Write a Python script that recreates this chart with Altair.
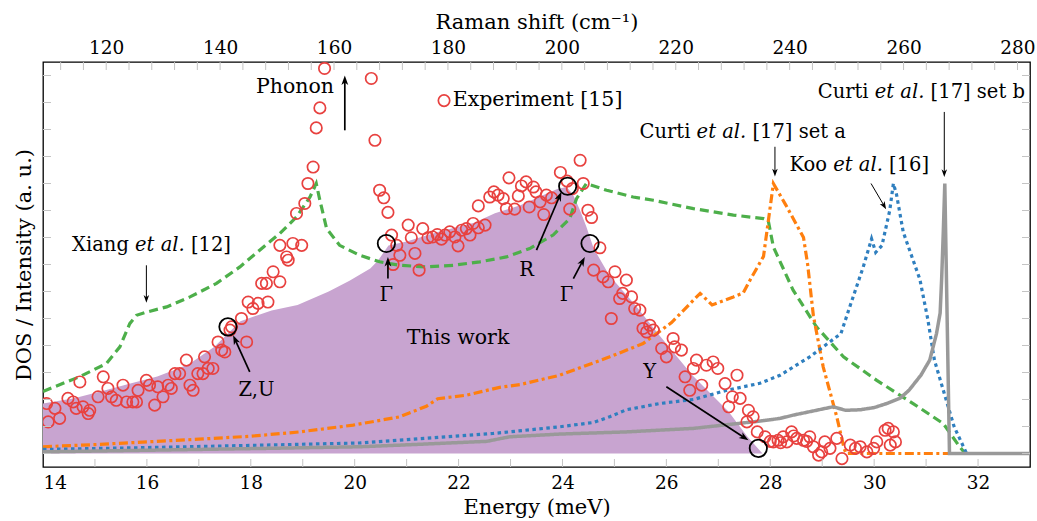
import math
import altair as alt
import pandas as pd

# ---------------- data ----------------
this_work_x = [14.0, 14.6, 15.2, 15.7, 16.2, 16.8, 17.3, 17.8, 18.4, 18.9, 19.5, 19.9, 20.3, 20.45,
               20.65, 21.0, 21.6, 22.3, 22.7, 23.2, 23.6, 23.9, 24.08, 24.2, 24.34, 24.46, 24.6,
               24.9, 25.4, 25.9, 26.5, 27.2, 27.55, 27.85]
this_work_y = [1.85, 2.05, 2.34, 2.6, 2.85, 3.3, 3.95, 4.9, 5.3, 5.5, 6.0, 6.4, 6.85, 7.15,
               7.7, 7.85, 8.2, 8.55, 8.9, 9.2, 9.55, 9.8, 9.87, 9.6, 9.0, 8.4, 7.6,
               6.6, 5.5, 4.3, 2.9, 1.55, 0.65, 0.0]

xiang_x = [14.0, 14.7, 15.22, 15.48, 15.67, 15.8, 16.0, 16.38, 16.83, 17.34, 17.79, 18.17, 18.56,
           18.88, 19.14, 19.26, 19.33, 19.46, 19.71, 20.1, 20.48, 20.87, 21.38, 21.9, 22.41, 22.92,
           23.37, 23.82, 24.14, 24.27, 24.46, 24.85, 25.36, 25.75, 26.52, 27.29, 27.87, 27.96,
           28.06, 28.44, 28.89, 29.41, 30.05, 30.75, 31.33, 31.65, 31.75, 33.0]
xiang_y = [2.3, 2.84, 3.33, 3.95, 4.81, 5.12, 5.24, 5.43, 5.8, 6.3, 6.91, 7.53, 8.15,
           8.76, 9.5, 10.0, 9.38, 8.33, 7.71, 7.34, 7.1, 6.97, 6.91, 6.97, 7.1, 7.28,
           7.59, 8.09, 8.7, 9.44, 10.0, 9.75, 9.5, 9.38, 9.07, 8.83, 8.7, 8.64,
           7.65, 6.05, 4.69, 3.58, 2.71, 1.85, 1.11, 0.24, 0.0, 0.0]

curti_a_x = [14.0, 15.0, 16.0, 17.0, 18.0, 18.94, 19.97, 20.87, 21.38, 21.6, 22.15, 22.79, 23.18,
             23.95, 24.91, 25.55, 26.1, 26.65, 26.88, 27.29, 27.48, 27.61, 27.87, 27.99, 28.06,
             28.3, 28.64, 28.72, 28.83, 29.02, 29.28, 29.42, 29.46, 33.0]
curti_a_y = [0.25, 0.33, 0.43, 0.53, 0.64, 0.8, 1.05, 1.36, 1.75, 2.03, 2.16, 2.45, 2.55,
             2.9, 3.58, 4.07, 4.85, 5.93, 5.5, 5.8, 5.95, 6.42, 7.3, 9.0, 10.0,
             9.2, 8.0, 7.0, 5.1, 3.2, 1.36, 0.2, 0.0, 0.0]

koo_x = [14.0, 16.0, 18.0, 20.1, 22.66, 23.95, 24.6, 24.91, 25.23, 25.87, 26.52, 27.16, 27.8,
         28.19, 28.76, 29.36, 29.53, 29.79, 29.95, 30.03, 30.15, 30.3, 30.37, 30.43, 30.56,
         30.75, 30.88, 31.03, 31.16, 31.35, 31.54, 31.78, 33.0]
koo_y = [0.15, 0.22, 0.3, 0.39, 0.74, 0.99, 1.15, 1.36, 1.62, 1.85, 2.0, 2.34, 2.6,
         2.9, 3.58, 4.44, 5.43, 6.91, 7.95, 7.45, 7.7, 9.0, 10.0, 9.6, 8.2,
         7.16, 6.45, 5.0, 3.46, 2.22, 0.99, 0.0, 0.0]

curti_b_x = [14.0, 16.0, 18.3, 20.1, 20.87, 22.54, 22.8, 22.99, 23.95, 25.23, 26.52, 27.8, 28.19,
             28.44, 29.21, 29.45, 29.73, 30.0, 30.24, 30.5, 30.67, 30.9, 31.07, 31.2, 31.27,
             31.3, 31.33, 31.36, 31.45, 33.0]
curti_b_y = [0.06, 0.12, 0.19, 0.25, 0.31, 0.45, 0.55, 0.62, 0.72, 0.8, 0.93, 1.2, 1.3,
             1.42, 1.73, 1.6, 1.62, 1.7, 1.85, 2.05, 2.34, 2.9, 3.46, 4.44, 5.2,
             6.5, 8.15, 10.0, 0.0, 0.0]

exp_x = [14.07, 14.23, 14.10, 14.32, 14.48, 14.58, 14.64, 14.77, 14.87, 14.90, 14.71, 15.06, 15.16,
         15.25, 15.32, 15.41, 15.54, 15.61, 15.73, 15.80, 15.83, 15.99, 16.05, 16.15, 16.21, 16.31,
         16.41, 16.47, 16.54, 16.63, 16.76, 16.83, 16.89, 16.98, 17.08, 17.11, 17.18, 17.27, 17.37,
         17.44, 17.50, 17.60, 17.63, 17.82, 17.92, 17.95, 18.04, 18.14, 18.21, 18.30, 18.33, 18.43,
         18.56, 18.56, 18.69, 18.72, 18.81, 18.98, 18.88, 19.04, 19.10, 19.20,
         19.42, 19.33, 19.26, 20.32, 20.39, 20.48, 20.56, 20.64, 20.71, 20.81, 20.87, 20.74, 21.03,
         21.09, 21.16, 21.24, 21.31, 21.41, 21.50, 21.59, 21.67, 21.74, 21.83, 21.93, 21.99, 22.06,
         22.15, 22.22, 22.28, 22.38, 22.51, 22.38, 22.60, 22.68, 22.76, 22.86, 22.92, 22.97, 23.08,
         23.15, 23.21, 23.30, 23.36, 23.44, 23.49, 23.57, 23.64, 23.69, 23.79, 23.96, 24.09, 24.19,
         24.14, 24.34, 24.40, 24.49, 24.56, 24.72,
         24.60, 24.78, 24.88, 25.01, 25.23, 25.16, 25.10, 25.33, 25.39, 25.49, 24.94, 25.55, 25.68,
         25.62, 25.75, 25.91, 26.00, 26.13, 26.16, 26.29, 26.58, 26.77, 26.90, 26.99, 26.52, 26.36,
         26.68, 26.45, 27.13, 27.36, 27.27, 27.42, 27.20, 27.58, 27.67, 27.55, 27.75, 27.90, 28.06,
         28.15, 28.25, 28.41, 28.32, 28.51, 28.64, 28.76, 28.83, 28.93, 28.99, 29.05, 29.15, 29.28,
         29.38, 29.54, 29.64, 29.73, 29.86, 29.99, 30.05, 30.21, 30.31, 30.41, 30.27, 30.37, 28.0,
         28.2, 28.45, 28.7]
exp_y = [1.85, 1.67, 1.17, 1.30, 2.04, 1.91, 1.67, 1.73, 1.48, 1.60, 2.65, 2.10, 2.84,
         2.41, 2.10, 1.97, 2.53, 1.91, 1.91, 1.91, 2.34, 2.71, 2.53, 1.79, 2.47, 2.10,
         2.53, 2.41, 2.96, 2.96, 3.46, 2.53, 2.34, 2.96, 2.96, 3.58, 3.15, 3.15, 4.13,
         3.83, 3.76, 4.57, 4.69, 5.00, 4.13, 5.61, 5.37, 5.56, 6.30, 6.30, 5.61, 6.73,
         6.36, 7.71, 7.28, 7.16, 7.78, 7.71, 8.89, 9.26, 10.0, 10.61,
         14.26, 12.80, 12.06, 13.89, 11.60, 9.75, 9.47, 8.93, 8.09, 7.71, 7.34, 7.00, 8.46,
         7.99, 7.41, 6.79, 8.33, 7.99, 8.02, 8.11, 7.94, 8.09, 8.21, 8.02, 7.69, 8.27,
         8.33, 8.09, 8.52, 8.36, 8.46, 9.17, 9.50, 9.69, 9.57, 9.44, 9.07, 10.21, 9.05,
         9.54, 9.91, 10.06, 9.13, 9.87, 9.69, 9.32, 8.85, 9.57, 9.47, 10.41, 10.09, 9.81,
         9.05, 10.86, 10.0, 9.01, 8.74, 7.62,
         6.79, 6.54, 6.36, 6.73, 6.42, 5.93, 5.74, 5.80, 5.37, 5.31, 5.00, 4.63, 4.75,
         4.50, 4.57, 3.89, 3.58, 4.26, 3.95, 3.83, 3.46, 3.27, 3.39, 3.15, 3.15, 2.84,
         2.53, 2.34, 2.59, 2.90, 2.10, 2.04, 1.73, 1.60, 1.36, 1.17, 0.80, 0.62, 0.43,
         0.49, 0.62, 0.80, 0.43, 0.56, 0.49, 0.62, 0.25, -0.06, 0.06, 0.43, 0.19, 0.56,
         -0.19, 0.31, 0.19, 0.25, 0.06, 0.19, 0.43, 0.86, 0.31, 0.43, 0.93, 0.80, 0.45,
         0.40, 0.65, 0.45]

# highlighted points (black circles)
marker_x = [17.56, 20.61, 24.10, 24.53, 27.77]
marker_y = [4.69, 7.78, 9.90, 7.78, 0.19]

# arrows: tail (x1, y1) -> head (x2, y2)
arrow_thick_x1 = [19.81, 17.98, 20.64, 23.50, 24.21, 26.00]
arrow_thick_y1 = [11.97, 3.02, 6.48, 7.53, 6.48, 2.47]
arrow_thick_x2 = [19.81, 17.66, 20.64, 23.98, 24.43, 27.58]
arrow_thick_y2 = [14.00, 4.38, 7.28, 9.69, 7.28, 0.49]
arrow_thin_x1 = [15.99, 28.09, 31.35, 29.94]
arrow_thin_y1 = [6.97, 11.36, 12.65, 10.00]
arrow_thin_x2 = [15.99, 28.09, 31.35, 30.23]
arrow_thin_y2 = [5.58, 10.26, 10.24, 9.05]

# text labels
big_text = ["Phonon", "Experiment [15]", "This work"]
big_text_x = [18.85, 23.52, 21.99]
big_text_y = [13.58, 13.09, 4.26]
small_text = ["Z,U", "Γ", "R", "Γ", "Y"]
small_text_x = [18.11, 20.61, 23.31, 24.08, 25.68]
small_text_y = [2.35, 5.86, 6.79, 5.86, 3.02]
# citation labels: "<author> et al. [ref]" anchored on the italic "et al."
cite_author = ["Curti", "Curti", "Koo", "Xiang"]
cite_ref = ["[17] set b", "[17] set a", "[16]", "[12]"]
cite_x = [30.49, 27.06, 29.69, 16.25]
cite_y = [13.39, 11.89, 10.68, 7.71]

legend_x = [21.72]
legend_y = [13.07]

energy_labels = [14, 16, 18, 20, 22, 24, 26, 28, 30, 32]
energy_minor = list(range(15, 33))
raman_labels = [120, 140, 160, 180, 200, 220, 240, 260, 280]
raman_minor = list(range(112, 281, 4))
intensity_ticks = list(range(0, 15))

# ---------------- layout / style ----------------
W, H = 987, 405
X_DOMAIN = [14, 33]
Y_DOMAIN = [-0.5, 14.5]
R_DOMAIN = [108.9, 282.2]
XPX = W / (X_DOMAIN[1] - X_DOMAIN[0])
YPX = H / (Y_DOMAIN[1] - Y_DOMAIN[0])
FONT = "DejaVu Serif"
RED = "#e8413f"
TICK_COLOR = "#c4c4c4"
SMALL = 19.5

xs = alt.Scale(domain=X_DOMAIN, nice=False, zero=False)
ys = alt.Scale(domain=Y_DOMAIN, nice=False, zero=False)
rs = alt.Scale(domain=R_DOMAIN, nice=False, zero=False)

x_axis = alt.Axis(values=energy_labels, title="Energy (meV)", ticks=False, tickSize=0,
                  domain=False, grid=False, labelFont=FONT, labelFontSize=18.5,
                  labelColor="black", labelPadding=6, titleFont=FONT, titleFontSize=21,
                  titleFontWeight="normal", titleColor="black", titlePadding=5, format="d")
y_axis = alt.Axis(title="DOS / Intensity (a. u.)", labels=False, ticks=False, tickSize=0,
                  domain=False, grid=False, titleFont=FONT, titleFontSize=21,
                  titleFontWeight="normal", titleColor="black", titlePadding=9)


def X(field="e"):
    return alt.X(field, type="quantitative", scale=xs, axis=x_axis)


def Y(field="d"):
    return alt.Y(field, type="quantitative", scale=ys, axis=y_axis)


area = alt.Chart(pd.DataFrame({"e": this_work_x, "d": this_work_y, "d2": 0.0})).mark_area(
    color="#c8a4d0", opacity=1, clip=True
).encode(x=X(), y=Y(), y2="d2")


def curve(xv, yv, color, dash, width=3.2):
    return alt.Chart(pd.DataFrame({"e": xv, "d": yv})).mark_line(
        color=color, strokeDash=dash, strokeWidth=width, clip=True, strokeCap="butt"
    ).encode(x=X(), y=Y())


green = curve(xiang_x, xiang_y, "#4daf4a", [9, 5])
orange = curve(curti_a_x, curti_a_y, "#ff7f0e", [9, 3.5, 3, 3.5])
blue = curve(koo_x, koo_y, "#2f7fbf", [3.5, 3.5])
grey = curve(curti_b_x, curti_b_y, "#999999", [1, 0], 3.5)

exp = alt.Chart(pd.DataFrame({"e": exp_x, "d": exp_y})).mark_point(
    shape="circle", filled=False, color=RED, size=130, strokeWidth=1.7, opacity=1, clip=True
).encode(x=X(), y=Y())

legend_pt = alt.Chart(pd.DataFrame({"e": legend_x, "d": legend_y})).mark_point(
    shape="circle", filled=False, color=RED, size=130, strokeWidth=1.7, opacity=1
).encode(x=X(), y=Y())

markers = alt.Chart(pd.DataFrame({"e": marker_x, "d": marker_y})).mark_point(
    shape="circle", filled=False, color="black", size=300, strokeWidth=1.8, opacity=1
).encode(x=X(), y=Y())

HEAD = "M0,-1L0.72,1L0,0.45L-0.72,1Z"


def arrows(x1, y1, x2, y2, width, head_size):
    half = math.sqrt(head_size) / 2.0
    shafts, heads = [], []
    for a, b, c, d in zip(x1, y1, x2, y2):
        dxp = (c - a) * XPX
        dyp = (d - b) * YPX
        ln = math.hypot(dxp, dyp)
        ux, uy = dxp / ln, dyp / ln
        hx = c - ux * half / XPX
        hy = d - uy * half / YPX
        ang = math.degrees(math.atan2(dxp, dyp)) % 360
        shafts.append({"e": a, "d": b, "e2": hx, "d2": hy})
        heads.append({"e": hx, "d": hy, "ang": ang})
    shaft = alt.Chart(pd.DataFrame(shafts)).mark_rule(color="black", strokeWidth=width).encode(
        x=X(), y=Y(), x2="e2", y2="d2")
    head = alt.Chart(pd.DataFrame(heads)).mark_point(
        shape=HEAD, filled=True, color="black", size=head_size, opacity=1, strokeWidth=0
    ).encode(x=X(), y=Y(), angle=alt.Angle("ang:Q", scale=None))
    return [shaft, head]


arrow_layers = (arrows(arrow_thick_x1, arrow_thick_y1, arrow_thick_x2, arrow_thick_y2, 1.7, 90)
                + arrows(arrow_thin_x1, arrow_thin_y1, arrow_thin_x2, arrow_thin_y2, 1.0, 60))


def texts(labels, xv, yv, size, style="normal", align="center", dx=0):
    return alt.Chart(pd.DataFrame({"e": xv, "d": yv, "t": labels})).mark_text(
        font=FONT, fontSize=size, fontStyle=style, color="black", align=align,
        baseline="middle", dx=dx
    ).encode(x=X(), y=Y(), text="t:N")


txt_big = texts(big_text, big_text_x, big_text_y, 20.5)
txt_small = texts(small_text, small_text_x, small_text_y, SMALL)
txt_italic = texts(["et al."] * len(cite_x), cite_x, cite_y, SMALL, "italic")
txt_author = texts(cite_author, cite_x, cite_y, SMALL, align="right", dx=-31)
txt_ref = texts(cite_ref, cite_x, cite_y, SMALL, align="left", dx=31)

tick_bottom = alt.Chart(pd.DataFrame({"e": energy_minor})).mark_rule(
    color=TICK_COLOR, strokeWidth=1).encode(x=X(), y=alt.value(H), y2=alt.value(H - 8))
tick_left = alt.Chart(pd.DataFrame({"d": intensity_ticks})).mark_rule(
    color=TICK_COLOR, strokeWidth=1).encode(y=Y(), x=alt.value(0), x2=alt.value(8))
tick_right = alt.Chart(pd.DataFrame({"d": intensity_ticks})).mark_rule(
    color=TICK_COLOR, strokeWidth=1).encode(y=Y(), x=alt.value(W), x2=alt.value(W - 8))

main = alt.layer(area, green, orange, blue, grey, exp, legend_pt, markers, *arrow_layers,
                 txt_big, txt_small, txt_italic, txt_author, txt_ref,
                 tick_bottom, tick_left, tick_right)

top_axis = alt.Axis(orient="top", values=raman_labels, title="Raman shift (cm⁻¹)", ticks=False,
                    tickSize=0, domain=False, grid=False, labelFont=FONT, labelFontSize=18.5,
                    labelColor="black", labelPadding=5, titleFont=FONT, titleFontSize=21,
                    titleFontWeight="normal", titleColor="black", titlePadding=6, format="d")
top = alt.Chart(pd.DataFrame({"r": raman_minor})).mark_rule(
    color=TICK_COLOR, strokeWidth=1
).encode(x=alt.X("r:Q", scale=rs, axis=top_axis), y=alt.value(0), y2=alt.value(8))

chart = alt.layer(main, top).resolve_scale(x="independent").properties(
    width=W, height=H,
    autosize=alt.AutoSizeParams(type="none"),
    padding={"left": 43, "top": 62, "right": 7, "bottom": 54},
    background="white",
).configure_view(stroke="black", strokeWidth=1.3)

chart.save("out.html", embed_options={"renderer": "svg", "actions": False})
